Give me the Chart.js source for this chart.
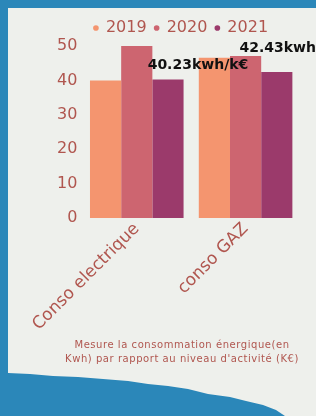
<!DOCTYPE html>
<html>
<head>
<meta charset="utf-8">
<script src="https://cdn.jsdelivr.net/npm/chart.js@4.4.1/dist/chart.umd.min.js"></script>
<style>
  html, body { margin: 0; padding: 0; }
  body { width: 316px; height: 416px; background: #2b87b9; position: relative; overflow: hidden; }
  .paper {
    position: absolute; left: 8px; top: 8px; width: 308px; height: 408px;
    background: #eef0ec;
    clip-path: polygon(0 0, 100% 0, 100% 100%, 277px 100%, 268px 402px, 255px 397px, 238px 393px, 222px 389px,
      200px 386px, 180px 381px, 160px 378px, 140px 376px, 120px 373px, 95px 371px, 70px 369px, 45px 368px, 22px 366px, 0 365px);
  }
  #wrap { position: absolute; left: 0; top: 0; width: 316px; height: 416px; }
  .caption {
    position: absolute; left: 50px; width: 264px; top: 338px;
    text-align: center; color: #b0564f;
    font-family: "DejaVu Sans"; font-size: 10px; line-height: 14px; letter-spacing: 0.55px;
  }
</style>
</head>
<body>
<div class="paper"></div>
<div id="wrap"><canvas id="myChart"></canvas></div>
<div class="caption" id="caption"></div>
<script>
// values
var categories = ["Conso electrique", "conso GAZ"];
var years = ["2019", "2020", "2021"];
var values2019 = [40, 46.6];
var values2020 = [50, 47.1];
var values2021 = [40.23, 42.43];
var labels2021 = ["40.23kwh/k€", "42.43kwh/k€"];
var yTicks = [0, 10, 20, 30, 40, 50];
var caption = ["Mesure la consommation énergique(en", "Kwh) par rapport au niveau d'activité (K€)"];

var colors = ["#f4956f", "#cd6570", "#9b3a6b"];
var textColor = "#b0564f";

document.getElementById("caption").innerHTML = caption.join("<br>");

// draws the value labels above the 2021 bars
var valueLabels = {
  id: "valueLabels",
  afterDatasetsDraw: function (chart, args, opts) {
    var ctx = chart.ctx;
    var meta = chart.getDatasetMeta(2);
    ctx.save();
    ctx.font = "bold 14px 'DejaVu Sans'";
    ctx.fillStyle = "#111";
    ctx.textAlign = "center";
    ctx.textBaseline = "middle";
    meta.data.forEach(function (bar, i) {
      var off = opts.offsets[i];
      ctx.fillText(labels2021[i], bar.x + off[0], bar.y + off[1]);
    });
    ctx.restore();
  }
};

// the legend in the picture sits a bit right of the centre
var legendShift = {
  id: "legendShift",
  afterLayout: function (chart, args, opts) {
    chart.legend.left += opts.dx;
    chart.legend.right += opts.dx;
  }
};

var ctx = document.getElementById("myChart").getContext("2d");
var myChart = new Chart(ctx, {
  type: "bar",
  data: {
    labels: categories,
    datasets: [
      { label: years[0], data: values2019, backgroundColor: colors[0] },
      { label: years[1], data: values2020, backgroundColor: colors[1] },
      { label: years[2], data: values2021, backgroundColor: colors[2] },
    ],
  },
  options: {
    responsive: true,
    maintainAspectRatio: false,
    animation: false,
    layout: { autoPadding: false, padding: { left: 52, right: 16, top: 12, bottom: 78 } },
    datasets: { bar: { barPercentage: 1, categoryPercentage: 0.86 } },
    scales: {
      x: {
        grid: { display: false, drawTicks: false },
        border: { display: false },
        afterFit: function (axis) {
          axis.height = 120;
          axis.paddingLeft = 0;
          axis.paddingRight = 0;
        },
        ticks: {
          color: textColor,
          font: { family: "'DejaVu Sans'", size: 17 },
          minRotation: 45,
          maxRotation: 45,
          padding: 1,
        },
      },
      y: {
        min: 0,
        max: 50,
        grid: { display: false, drawTicks: false },
        border: { display: false },
        afterBuildTicks: function (axis) {
          axis.ticks = yTicks.map(function (v) { return { value: v }; });
        },
        ticks: {
          color: textColor,
          font: { family: "'DejaVu Sans'", size: 16 },
          padding: 5,
        },
      },
    },
    plugins: {
      legend: {
        labels: {
          color: textColor,
          font: { family: "'DejaVu Sans'", size: 16 },
          usePointStyle: true,
          pointStyle: "circle",
          boxWidth: 4,
          boxHeight: 4,
          padding: 8,
        },
      },
      tooltip: { enabled: false },
      valueLabels: { offsets: [[30, -14], [13, -24]] },
      legendShift: { dx: 5 },
    },
  },
  plugins: [valueLabels, legendShift],
});
</script>
</body>
</html>
